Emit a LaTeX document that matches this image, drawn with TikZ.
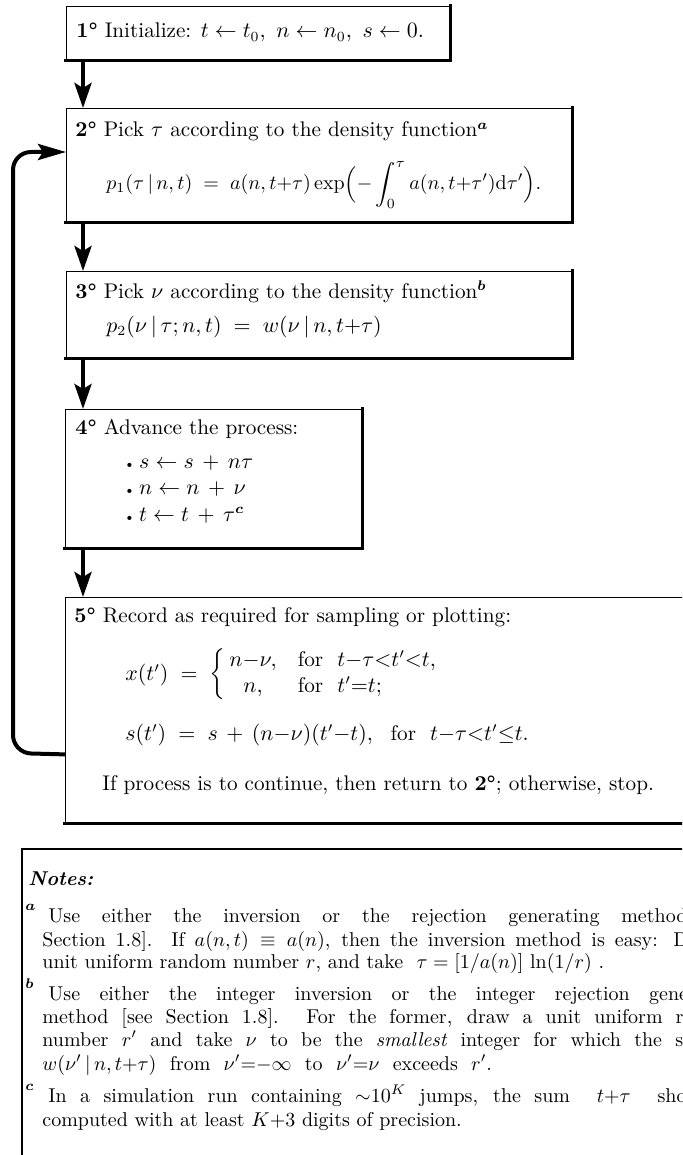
\documentclass[tikz,border=0pt]{standalone}
\usepackage{amsmath,amssymb}
\usetikzlibrary{arrows.meta}
\begin{document}
\begin{tikzpicture}[x=0.5pt,y=-0.5pt,
  txt/.style={anchor=base west, inner sep=0pt, font=\fontsize{10.6}{12.7}\selectfont},
  ntxt/.style={anchor=base west, inner sep=0pt, font=\fontsize{10}{12}\selectfont},
  boxshape/.style={draw, line width=0.7pt, inner sep=0pt, anchor=north west},
  edge/.style={line width=1.6pt, line cap=rect},
  arr/.style={line width=2pt, -{Stealth[length=12.5pt,width=8.5pt,inset=2.5pt]}},
  loopline/.style={line width=2pt, rounded corners=9pt, -{Stealth[length=14pt,width=8pt,inset=2.5pt]}}]
\useasboundingbox (0,0) rectangle (682,1155);
\clip (0,0) rectangle (682,1155);
% boxes
\node[boxshape, minimum width=191.5pt, minimum height=26.5pt] (b1) at (66,6) {};
\node[boxshape, minimum width=252.5pt, minimum height=56.5pt] (b2) at (66,108) {};
\node[boxshape, minimum width=252.5pt, minimum height=43pt] (b3) at (66,271) {};
\node[boxshape, minimum width=148pt, minimum height=69pt] (b4) at (65,409) {};
\node[boxshape, minimum width=357.5pt, minimum height=112.5pt] (b5) at (65,597) {};
\node[boxshape, line width=0.9pt, minimum width=389.5pt, minimum height=176pt] (nb) at (21,848) {};
\foreach \b in {b1,b2,b3,b4,b5}
  \draw[edge] (\b.south west) -- (\b.south east) -- (\b.north east);
% texts
\node[txt] (t1) at (76,38) {\textbf{1°} Initialize: $t\leftarrow t_0,\ n\leftarrow n_0,\ s\leftarrow 0.$};
\node[txt] (t2) at (75,137) {\textbf{2°} Pick $\tau$ according to the density function$^{\boldsymbol{a}}$};
\node[txt, font=\fontsize{10.1}{12}\selectfont] (t2f) at (106,190) {$p_1(\tau\,|\,n,t) \;=\; a(n,t{+}\tau)\exp\Bigl(-\displaystyle\int_0^{\tau} a(n,t{+}\tau')\mathrm{d}\tau'\Bigr).$};
\node[txt] (t3) at (75,298) {\textbf{3°} Pick $\nu$ according to the density function$^{\boldsymbol{b}}$};
\node[txt] (t3f) at (106,332) {$p_2(\nu\,|\,\tau;n,t) \;=\; w(\nu\,|\,n,t{+}\tau)$};
\node[txt] (t4) at (75,434) {\textbf{4°} Advance the process:};
\node[txt] (t4a) at (123,468) {{\scriptsize\textbullet}\,$s\leftarrow s\,+\,n\tau$};
\node[txt] (t4b) at (123,494) {{\scriptsize\textbullet}\,$n\leftarrow n\,+\,\nu$};
\node[txt] (t4c) at (123,521) {{\scriptsize\textbullet}\,$t\leftarrow t\,+\,\tau^{\boldsymbol{c}}$};
\node[txt] (t5) at (74,622) {\textbf{5°} Record as required for sampling or plotting:};
\node[txt] (t5x) at (125,680) {$x(t') \;=\; \left\{\begin{array}{@{\,}c@{\quad}l@{}} n{-}\nu, & \text{for}\ \ t{-}\tau{<}t'{<}t,\\ n, & \text{for}\ \ t'{=}t; \end{array}\right.$};
\node[txt] (t5s) at (125,740) {$s(t') \;=\; s\,+\,(n{-}\nu)(t'{-}t),\ \ \text{for}\ \ t{-}\tau{<}t'{\le}t.$};
\node[txt] (t5e) at (102,790) {If process is to continue, then return to \textbf{2°}; otherwise, stop.};
% notes
\node[ntxt] (nt) at (28,885) {\textbf{\textit{Notes:}}};
\node[ntxt] (sa) at (25,918) {$^{\boldsymbol{a}}$};
\node[ntxt] (a1) at (48,922) {\makebox[346pt][s]{Use either the inversion or the rejection generating method [see}};
\node[ntxt] (a2) at (42,946) {\makebox[349pt][s]{Section 1.8]. If $a(n,t)\equiv a(n)$, then the inversion method is easy: Draw a}};
\node[ntxt] (a3) at (42,968) {unit uniform random number $r$, and take \ $\tau = [1/a(n)]\,\ln(1/r)$\,\,.};
\node[ntxt] (sb) at (25,996) {$^{\boldsymbol{b}}$};
\node[ntxt] (b1l) at (48,1000) {\makebox[346pt][s]{Use either the integer inversion or the integer rejection generating}};
\node[ntxt] (b2l) at (42,1023) {\makebox[350pt][s]{method [see Section 1.8]. For the former, draw a unit uniform random}};
\node[ntxt] (b3l) at (42,1046) {\makebox[349pt][s]{number $r'$ and take $\nu$ to be the \textit{smallest} integer for which the sum of}};
\node[ntxt] (b4l) at (42,1070) {$w(\nu'\,|\,n,t{+}\tau)$ \ from \ $\nu'{=}{-}\infty$ \ to \ $\nu'{=}\nu$ \ exceeds \ $r'$.};
\node[ntxt] (sc) at (25,1098) {$^{\boldsymbol{c}}$};
\node[ntxt] (c1l) at (48,1102) {\makebox[350pt][s]{In a simulation run containing ${\sim}10^K$ jumps, the sum \ $t{+}\tau$ \ should be}};
\node[ntxt] (c2l) at (42,1126) {computed with at least $K{+}3$ digits of precision.};
% connectors
\draw[arr] ([xshift=8.5pt]b1.south west) -- ([xshift=8.5pt]b2.north west);
\draw[arr] ([xshift=8.5pt]b2.south west) -- ([xshift=8.5pt]b3.north west);
\draw[arr] ([xshift=8.5pt]b3.south west) -- ([xshift=9pt]b4.north west);
\draw[arr] ([xshift=9pt]b4.south west) -- ([xshift=9pt]b5.north west);
\coordinate (L1) at (13,753);
\coordinate (L2) at (13,152);
\draw[loopline] ([yshift=34.5pt]b5.south west) -- (L1) -- (L2) -- ([yshift=-22pt]b2.north west);
\end{tikzpicture}
\end{document}
